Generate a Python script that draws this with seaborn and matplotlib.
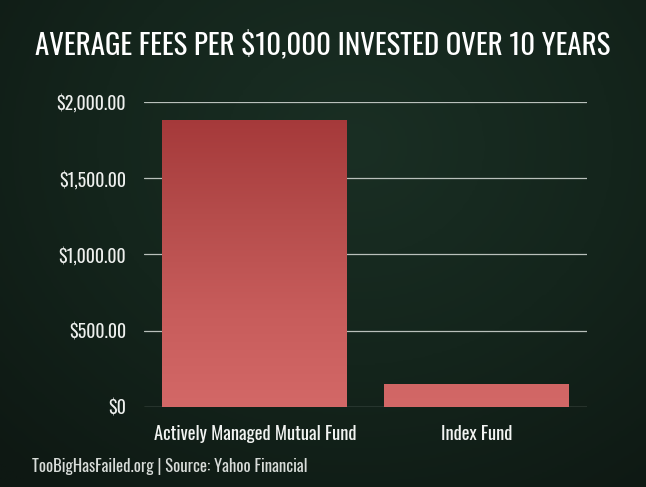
import numpy as np
import pandas as pd
import matplotlib
matplotlib.use("Agg")
import matplotlib.pyplot as plt
import seaborn as sns
from matplotlib.colors import LinearSegmentedColormap
from matplotlib.ticker import FuncFormatter

# data
funds = ["Actively Managed Mutual Fund", "Index Fund"]
fees = [1880, 150]
y_ticks = [0, 500, 1000, 1500, 2000]

title = "AVERAGE FEES PER $10,000 INVESTED OVER 10 YEARS"
footer = "TooBigHasFailed.org | Source: Yahoo Financial"

df = pd.DataFrame({"fund": funds, "fee": fees})

sns.set_style("dark")
font = ["Oswald", "DejaVu Sans"]
plt.rcParams["font.family"] = font

fig = plt.figure(figsize=(6.46, 4.87), dpi=100)

# chalkboard background: dark green, a bit lighter towards the upper middle
bg = fig.add_axes([0, 0, 1, 1], zorder=-10)
yy, xx = np.mgrid[0:1:200j, 0:1:260j]
r = np.sqrt(((xx - 0.55) / 0.8) ** 2 + ((yy - 0.3) / 0.9) ** 2)
bg_cmap = LinearSegmentedColormap.from_list("board", ["#1a2f24", "#14251c", "#0e1813"])
bg.imshow(r, cmap=bg_cmap, aspect="auto", extent=(0, 1, 0, 1), vmin=0, vmax=1.0)
bg.set_axis_off()

ax = fig.add_axes([0.2229, 0.1643, 0.6858, 0.6263])
ax.set_facecolor("none")

sns.barplot(data=df, x="fund", y="fee", color="#c05050", width=0.835, ax=ax, zorder=3)

# red gradient inside the bars (dark at top, lighter at the bottom)
bar_cmap = LinearSegmentedColormap.from_list("bar", ["#a5393a", "#b54c4b", "#c75c5b", "#d36867"])
grad = np.linspace(0, 1, 256).reshape(-1, 1)
for p in ax.patches:
    x0 = p.get_x()
    im = ax.imshow(grad, cmap=bar_cmap, aspect="auto", zorder=3,
                   extent=(x0, x0 + p.get_width(), 0, 1900), vmin=0, vmax=1)
    im.set_clip_path(p)
    p.set_facecolor("none")
    p.set_edgecolor("none")

ax.set_xlim(-0.5, 1.5)
ax.set_ylim(0, 2000)
ax.set_yticks(y_ticks)
ax.yaxis.set_major_formatter(FuncFormatter(lambda v, _: "$0" if v == 0 else f"${v:,.2f}"))
ax.grid(axis="y", color="#b9c0bb", linewidth=0.9, zorder=1)
ax.grid(axis="x", visible=False)
for s in ax.spines.values():
    s.set_visible(False)
ax.tick_params(axis="y", length=0, colors="#eef0ee", labelsize=12.8, pad=13)
ax.tick_params(axis="x", length=0, colors="#f2f4f2", labelsize=13.3, pad=13)
ax.set_xlabel("")
ax.set_ylabel("")

fig.text(0.5, 0.908, title, ha="center", va="center", color="white",
         fontsize=20.8, family=font)
fig.text(0.049, 0.042, footer, ha="left", va="center", color="#d8dcd9",
         fontsize=12, family=font)

fig.savefig("out.png", dpi=100)
